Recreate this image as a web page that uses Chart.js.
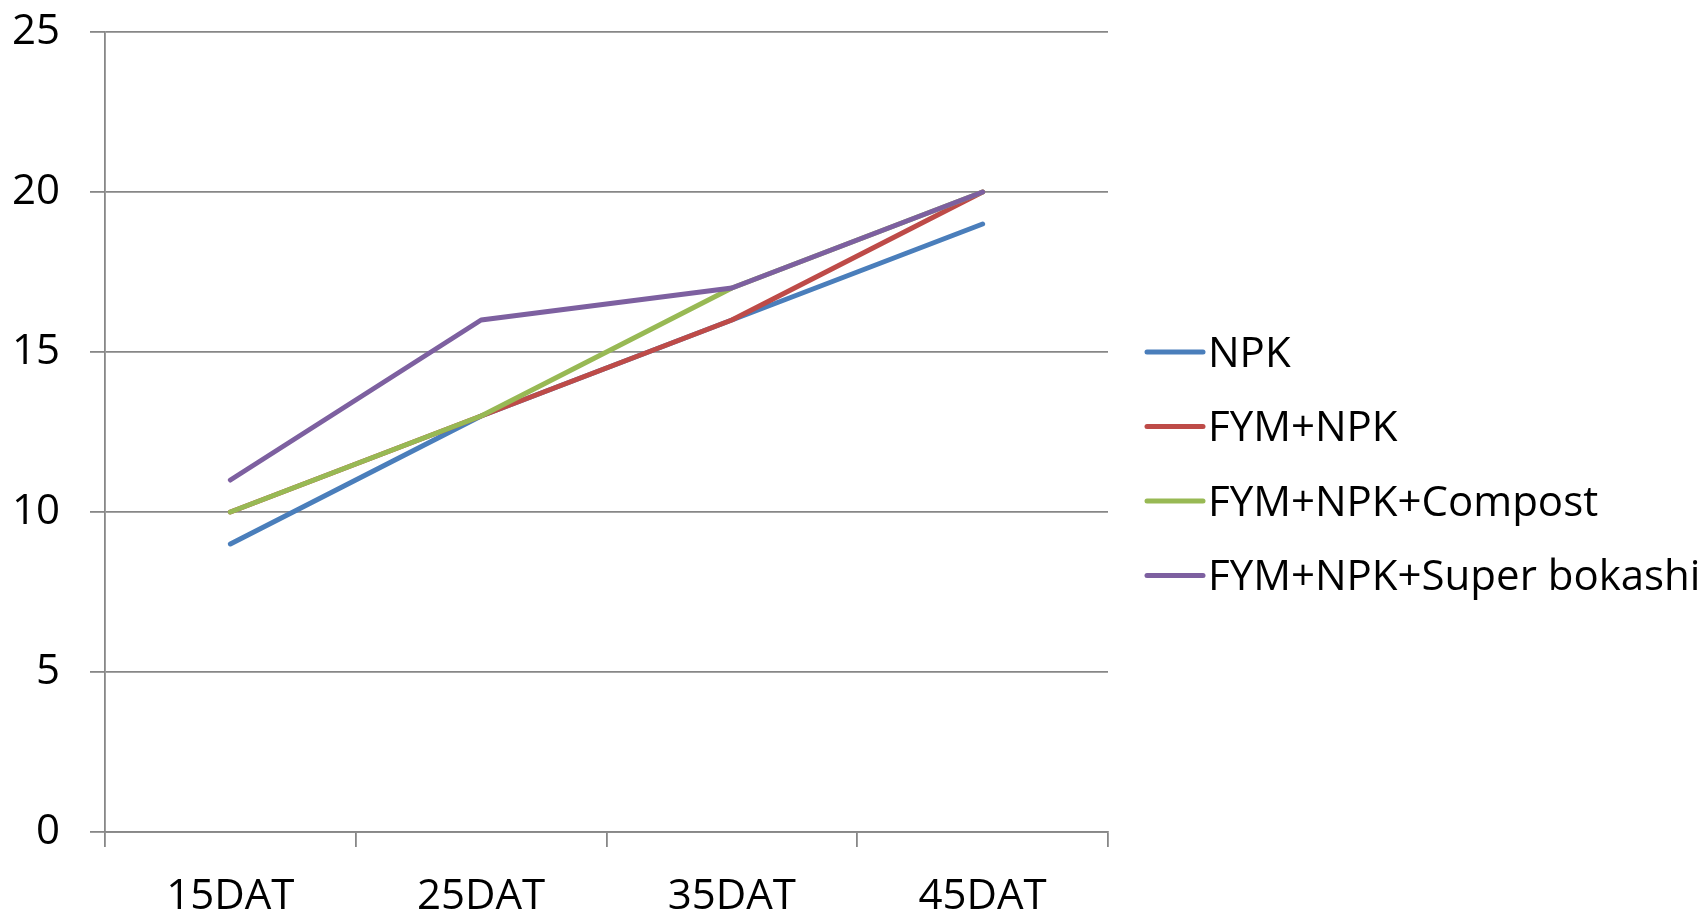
<!DOCTYPE html>
<html>
<head>
<meta charset="utf-8">
<script src="https://cdn.jsdelivr.net/npm/chart.js@4"></script>
<style>
    body { margin: 0; background: #fff; }
    #wrap { width: 1700px; height: 913px; position: relative; }
</style>
</head>
<body>
<div id="wrap"><canvas id="growthChart"></canvas></div>
<script>
// Data
const days = ['15DAT', '25DAT', '35DAT', '45DAT'];
const seriesNames = ['NPK', 'FYM+NPK', 'FYM+NPK+Compost', 'FYM+NPK+Super bokashi'];
const npk = [9, 13, 16, 19];
const fymNpk = [10, 13, 16, 20];
const fymNpkCompost = [10, 13, 17, 20];
const fymNpkBokashi = [11, 16, 17, 20];
const yTicks = [0, 5, 10, 15, 20, 25];

const colors = ['#4a7ebb', '#be4b48', '#98b954', '#7d60a0'];
const fontFamily = '"Open Sans", "DejaVu Sans", sans-serif';
const fontSize = 42;
const gridColor = '#878787';

const seriesValues = [npk, fymNpk, fymNpkCompost, fymNpkBokashi];

// Legend drawn by hand so the line marker sits right next to the text, as in the original
const sideLegend = {
    id: 'sideLegend',
    afterDraw(chart) {
        const ctx = chart.ctx;
        const lineStart = 1147;
        const lineEnd = 1203;
        const textX = 1208;
        const firstY = 352;
        const step = 74.5;
        ctx.save();
        ctx.font = fontSize + 'px ' + fontFamily;
        ctx.textBaseline = 'alphabetic';
        ctx.textAlign = 'left';
        seriesNames.forEach((name, i) => {
            const y = firstY + i * step;
            ctx.strokeStyle = colors[i];
            ctx.lineWidth = 5;
            ctx.lineCap = 'round';
            ctx.beginPath();
            ctx.moveTo(lineStart, y);
            ctx.lineTo(lineEnd, y);
            ctx.stroke();
            ctx.fillStyle = '#000';
            ctx.fillText(name, textX, y + fontSize * 0.357);
        });
        ctx.restore();
    }
};

const datasets = seriesNames.map((name, i) => ({
    label: name,
    data: seriesValues[i],
    borderColor: colors[i],
    backgroundColor: colors[i],
    borderWidth: 5,
    borderCapStyle: 'round',
    borderJoinStyle: 'round',
    pointRadius: 0,
    tension: 0,
    order: seriesNames.length - i   // later series on top
}));

const ctx = document.getElementById('growthChart').getContext('2d');
new Chart(ctx, {
    type: 'line',
    data: { labels: days, datasets: datasets },
    options: {
        responsive: true,
        maintainAspectRatio: false,
        animation: false,
        layout: {
            padding: { top: 32, right: 592, bottom: 0, left: 0 }
        },
        plugins: {
            legend: { display: false },
            tooltip: { enabled: false }
        },
        scales: {
            x: {
                offset: true,
                grid: {
                    offset: true,
                    drawOnChartArea: false,
                    drawTicks: true,
                    tickLength: 15,
                    color: gridColor,
                    lineWidth: 1.8
                },
                border: { display: true, color: gridColor, width: 1.8 },
                ticks: {
                    color: '#000',
                    padding: 25,
                    font: { family: fontFamily, size: fontSize }
                },
                afterFit(scale) {
                    scale.height = 81;
                    scale.paddingLeft = 0;
                    scale.paddingRight = 0;
                }
            },
            y: {
                min: 0,
                max: 25,
                afterBuildTicks(scale) {
                    scale.ticks = yTicks.map(v => ({ value: v }));
                },
                grid: {
                    color: gridColor,
                    lineWidth: 1.8,
                    tickLength: 15
                },
                border: { display: true, color: gridColor, width: 1.8 },
                ticks: {
                    color: '#000',
                    padding: 30,
                    font: { family: fontFamily, size: fontSize }
                },
                afterFit(scale) {
                    scale.width = 105;
                    scale.paddingTop = 0;
                    scale.paddingBottom = 0;
                }
            }
        }
    },
    plugins: [sideLegend]
});
</script>
</body>
</html>
